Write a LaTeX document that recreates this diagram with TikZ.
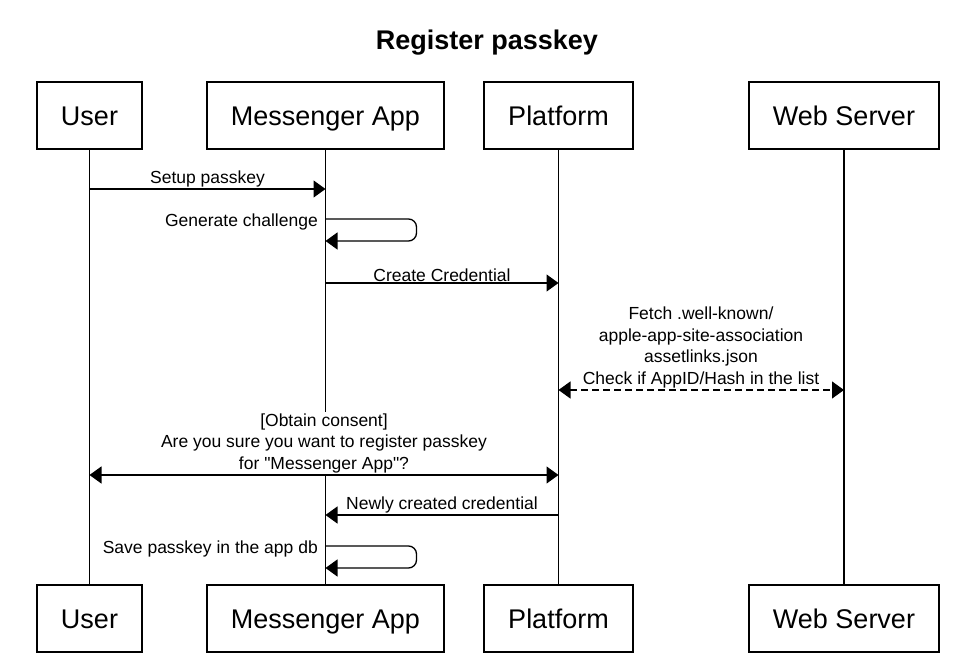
\documentclass[tikz,border=0pt]{standalone}
\usepackage{fontspec}
\setmainfont{Liberation Sans}
\usetikzlibrary{arrows.meta}

\begin{document}
\begin{tikzpicture}[x=1pt,y=-1pt,
        actor/.style={draw,line width=1.3pt,minimum height=67pt,inner sep=0pt,
            text height=20pt,text depth=0pt,font=\fontsize{27}{32}\selectfont},
        msg/.style={line width=1.3pt,-{Triangle[length=12pt,width=17pt]}},
        both/.style={line width=1.3pt,{Triangle[length=12pt,width=17pt]}-{Triangle[length=12pt,width=17pt]}},
        lbl/.style={font=\fontsize{17.5}{21.5}\selectfont,inner sep=1pt,align=center}]
\useasboundingbox (0,0) rectangle (970,668);

\node[font=\bfseries\fontsize{27}{32}\selectfont] (title) at (487,43) {Register passkey};

% actors
\node[actor,minimum width=105pt] (user) at (89.5,115.5) {User};
\node[actor,minimum width=237pt] (app) at (325.5,115.5) {Messenger App};
\node[actor,minimum width=149pt] (platform) at (558.5,115.5) {Platform};
\node[actor,minimum width=190pt] (server) at (844,115.5) {Web Server};
\node[actor,minimum width=105pt] (userB) at (89.5,618.5) {User};
\node[actor,minimum width=237pt] (appB) at (325.5,618.5) {Messenger App};
\node[actor,minimum width=149pt] (platformB) at (558.5,618.5) {Platform};
\node[actor,minimum width=190pt] (serverB) at (844,618.5) {Web Server};

% lifelines
\draw[line width=1.3pt] (user) -- (userB);
\draw[line width=1.3pt] (app) -- (appB);
\draw[line width=1.3pt] (platform) -- (platformB);
\draw[line width=1.3pt] (server) -- (serverB);

% messages
\coordinate (u1) at (89.5,189); \coordinate (a1) at (325.5,189);
\draw[msg] (u1) -- (a1) node[lbl,midway,above=0pt] (setup) {Setup passkey};

\coordinate (a2) at (325.5,219); \coordinate (a3) at (325.5,241);
\draw[msg,rounded corners=8pt] (a2) -- ++(91,0) -- ++(0,22) -- (a3);
\node[lbl,anchor=east] (gen) at (319,222) {Generate challenge};

\coordinate (a4) at (325.5,283); \coordinate (p4) at (558.5,283);
\draw[msg] (a4) -- (p4) node[lbl,midway,above=0pt] (create) {Create Credential};

\coordinate (p5) at (558.5,390); \coordinate (s5) at (844,390);
\draw[both,dash pattern=on 7pt off 4pt] (p5) -- (s5);
\node[lbl] (fetch) at (701,347.5) {Fetch .well-known/\\apple-app-site-association\\assetlinks.json\\Check if AppID/Hash in the list};

\coordinate (u6) at (89.5,475); \coordinate (p6) at (558.5,475);
\draw[both] (u6) -- (p6);
\node[lbl,fill=white] (consent) at (324,443) {[Obtain consent]\\Are you sure you want to register passkey\\for \textquotedbl Messenger App\textquotedbl?};

\coordinate (p7) at (558.5,515); \coordinate (a7) at (325.5,515);
\draw[msg] (p7) -- (a7) node[lbl,midway,above=0pt] (newcred) {Newly created credential};

\coordinate (a8) at (325.5,546); \coordinate (a9) at (325.5,568);
\draw[msg,rounded corners=8pt] (a8) -- ++(91,0) -- ++(0,22) -- (a9);
\node[lbl,anchor=east] (save) at (319,549) {Save passkey in the app db};

\end{tikzpicture}
\end{document}
